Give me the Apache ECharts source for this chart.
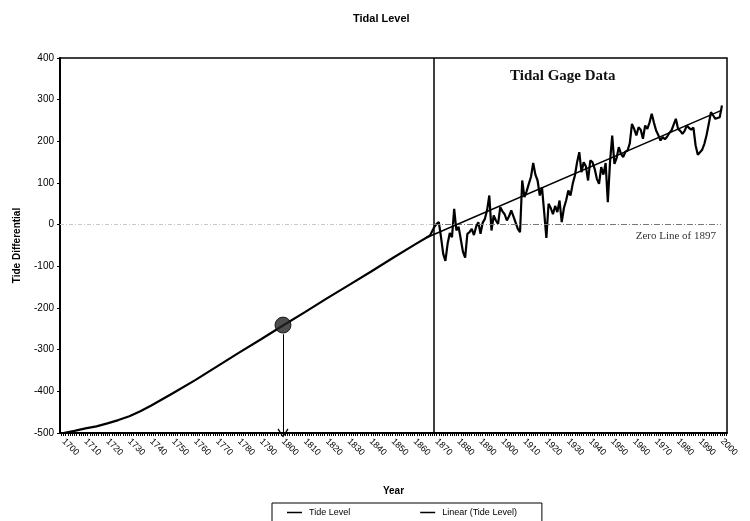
<!DOCTYPE html>
<html>
<head>
<meta charset="utf-8">
<script src="https://cdn.jsdelivr.net/npm/echarts@6/dist/echarts.min.js"></script>
<style>
  html, body { margin: 0; padding: 0; background: #fff; }
  #chart { width: 750px; height: 521px; }
</style>
</head>
<body>
<div id="chart"></div>
<script>
// Decade labels along the year axis
const decadeLabels = [1700, 1710, 1720, 1730, 1740, 1750, 1760, 1770, 1780, 1790,
  1800, 1810, 1820, 1830, 1840, 1850, 1860, 1870, 1880, 1890,
  1900, 1910, 1920, 1930, 1940, 1950, 1960, 1970, 1980, 1990, 2000];

// Reconstructed tide level before the gauge record
const earlyYears = [1700, 1705, 1710, 1715, 1720, 1725, 1730, 1735, 1740, 1750, 1760, 1770, 1780, 1790,
  1800, 1810, 1820, 1830, 1840, 1850, 1860, 1867];
const earlyLevels = [-500, -495, -489, -484, -477, -469, -460, -448, -434, -404, -373, -340, -307, -275,
  -242, -210, -177, -145, -113, -80, -48, -26];

// Annual tidal gauge readings, 1869 - 2000
const gageFirstYear = 1869;
const gageLevels = [
  -5, 2, 6, -30, -70, -87, -46, -20, -30, 38,          // 1869-1878
  -14, -5, -35, -65, -79, -22, -18, -10, -25, -5,      // 1879-1888
  6, -22, 5, 14, 35, 70, -14, 22, 10, 2,               // 1889-1898
  42, 32, 25, 10, 20, 34, 20, 5, -10, -18,             // 1899-1908
  106, 66, 80, 98, 115, 148, 120, 106, 70, 90,         // 1909-1918
  30, -32, 50, 40, 25, 45, 30, 58, 6, 40,              // 1919-1928
  58, 82, 70, 98, 118, 150, 174, 126, 150, 140,        // 1929-1938
  106, 154, 150, 134, 110, 98, 138, 120, 148, 54,      // 1939-1948
  150, 214, 146, 160, 186, 170, 162, 175, 178, 195,    // 1949-1958
  242, 230, 214, 234, 228, 206, 238, 230, 245, 266,    // 1959-1968
  245, 226, 215, 202, 210, 205, 211, 220, 226, 240,    // 1969-1978
  254, 230, 225, 218, 225, 238, 232, 228, 233, 190,    // 1979-1988
  168, 174, 180, 194, 215, 242, 270, 262, 254, 256,    // 1989-1998
  258, 286                                             // 1999-2000
];

// Linear trend of the gauge record
const trendYears = [1865, 2000];
const trendLevels = [-32, 275];

// Year the gauge record begins (separator line)
const gageStartYear = 1868.8;

// Highlighted point on the reconstruction
const markedYear = 1800;
const markedLevel = -241;

const yTicks = { min: -500, max: 400, interval: 100 };

const tideData = earlyYears.map((y, i) => [y, earlyLevels[i]])
  .concat(gageLevels.map((v, i) => [gageFirstYear + i, v]));
const trendData = trendYears.map((y, i) => [y, trendLevels[i]]);

const yearTicks = [];
for (let y = 1699; y <= 2002; y++) yearTicks.push(y);

const sans = 'Liberation Sans, Arial, sans-serif';
const serif = 'Liberation Serif, Times New Roman, serif';
const legendLine = 'path://M0,0H20V2H0Z';

const chart = echarts.init(document.getElementById('chart'), null, { renderer: 'canvas' });

chart.setOption({
  animation: false,
  backgroundColor: '#fff',
  color: ['#000', '#000', '#222'],
  title: {
    text: 'Tidal Level',
    left: 348,
    top: 8,
    textStyle: { fontFamily: sans, fontSize: 11, fontWeight: 'bold', color: '#000' }
  },
  grid: {
    left: 60, right: 23, top: 58, bottom: 88,
    show: true, borderColor: '#000', borderWidth: 1.5, backgroundColor: 'transparent'
  },
  legend: {
    data: [
      { name: 'Tide Level', icon: legendLine },
      { name: 'Linear (Tide Level)', icon: legendLine }
    ],
    left: 272,
    top: 503,
    orient: 'horizontal',
    padding: [5, 25, 12, 15],
    itemGap: 70,
    itemWidth: 19,
    itemHeight: 1.5,
    itemStyle: { color: '#000', borderWidth: 0 },
    lineStyle: { color: '#000' },
    borderColor: '#000',
    borderWidth: 1,
    textStyle: { fontFamily: sans, fontSize: 9, color: '#000' }
  },
  xAxis: {
    type: 'value',
    min: 1698.4,
    max: 2002.3,
    name: 'Year',
    nameLocation: 'middle',
    nameGap: 53,
    nameTextStyle: { fontFamily: sans, fontSize: 10, fontWeight: 'bold', color: '#000' },
    axisLine: { show: true, onZero: false, lineStyle: { color: '#000', width: 2 } },
    axisTick: { show: true, customValues: yearTicks, length: 3, lineStyle: { color: '#000', width: 1 } },
    axisLabel: {
      customValues: decadeLabels,
      rotate: -45,
      margin: 7,
      formatter: v => String(Math.round(v)),
      fontFamily: sans, fontSize: 9, color: '#000'
    },
    splitLine: { show: false }
  },
  yAxis: {
    type: 'value',
    min: yTicks.min,
    max: yTicks.max,
    interval: yTicks.interval,
    name: 'Tide Differential',
    nameLocation: 'middle',
    nameGap: 38,
    nameTextStyle: { fontFamily: sans, fontSize: 10, fontWeight: 'bold', color: '#000' },
    axisLine: { show: true, lineStyle: { color: '#000', width: 2 } },
    axisTick: { show: true, length: 3, lineStyle: { color: '#000' } },
    axisLabel: { margin: 6, fontFamily: sans, fontSize: 10, color: '#000' },
    splitLine: { show: false }
  },
  series: [
    {
      name: 'Tide Level',
      type: 'line',
      data: tideData,
      symbol: 'none',
      itemStyle: { color: '#000' },
      lineStyle: { color: '#000', width: 2.2 },
      z: 4,
      markLine: {
        silent: true,
        symbol: 'none',
        label: { show: false },
        data: [
          // separator marking the start of the gauge record
          { xAxis: gageStartYear, lineStyle: { color: '#000', width: 1.5, type: 'solid' } },
          // zero datum, faint over the reconstruction, darker over the gauge record
          [{ coord: [1698.4, 0] }, { coord: [gageStartYear, 0], lineStyle: { color: '#c8c8c8', width: 1, type: [4, 2, 1, 2] } }],
          [{ coord: [gageStartYear, 0] }, { coord: [1999.5, 0], lineStyle: { color: '#777', width: 1, type: [6, 2, 1, 2] } }]
        ]
      }
    },
    {
      name: 'Linear (Tide Level)',
      type: 'line',
      data: trendData,
      symbol: 'none',
      itemStyle: { color: '#000' },
      lineStyle: { color: '#000', width: 1.5 },
      z: 5
    },
    {
      name: 'marked',
      type: 'scatter',
      data: [[markedYear, markedLevel]],
      symbol: 'circle',
      symbolSize: 16,
      itemStyle: { color: '#222', borderColor: '#000', borderWidth: 1 },
      z: 6,
      markLine: {
        silent: true,
        symbol: ['none', 'path://M5,0L10,9L9,10L5,2L1,10L0,9Z'],
        symbolSize: [11, 9],
        label: { show: false },
        lineStyle: { color: '#000', width: 1, type: 'solid' },
        data: [[{ coord: [markedYear, markedLevel - 22] }, { coord: [markedYear, yTicks.min] }]]
      }
    }
  ],
  graphic: [
    {
      type: 'text',
      left: 510,
      top: 69,
      style: { text: 'Tidal Gage Data', font: 'bold 15px ' + serif, fill: '#111' }
    },
    {
      type: 'text',
      right: 34,
      top: 231,
      style: { text: 'Zero Line of 1897', font: '11px ' + serif, fill: '#333' }
    }
  ]
});
</script>
</body>
</html>
